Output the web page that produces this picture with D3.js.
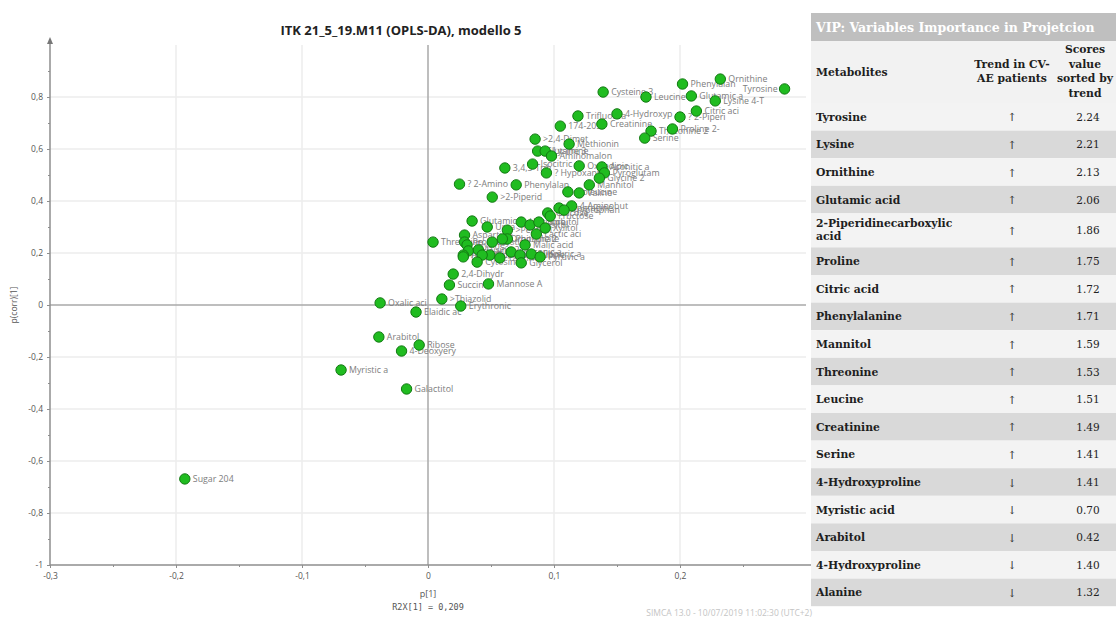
<!DOCTYPE html>
<html>
<head>
<meta charset="utf-8">
<script src="https://cdn.jsdelivr.net/npm/d3@7"></script>
<style>
  body { margin: 0; background: #fff; }
  svg { display: block; }
</style>
</head>
<body>
<svg id="chart" width="1116" height="618"></svg>
<script>
// loading plot values: p[1] and p(corr)[1]
const pointNames = [
  'Ornithine', 'Tyrosine', 'Phenylalan', 'Glutamic a', 'Lysine 4-T', 'Leucine 2', 'Cysteine 3',
  'Citric aci', '? 2-Piperi', '4-Hydroxyp', 'Trifluoroa', 'Creatinine', '174-205', 'Proline 2-',
  'Threonine 2', 'Serine', '>2,4-Dimet', 'Methionin', 'Glutamine', 'Lysine 3', 'Aminomalon',
  '3,4,5-Trih', 'Isocitric', '? Hypoxant', 'Oxoadipic', 'Aconitic a', 'Pyroglutam', 'Glycine 2',
  '? 2-Amino', 'Phenylalan', 'Mannitol', '>2-Piperid', 'Isoleucine', 'Valine', '4-Aminobut',
  'Asparagine', 'Tryptophan', 'Glucose', 'Fructose', 'Glutamic 2', 'Urea', 'Histidine',
  'Inositol', 'Sorbitol', 'Xylitol', '>Pentitol', 'Lactic aci', 'Phosphate', 'Aspartic a',
  'Ornithine 2', 'Cystine', 'Proline 3', 'Glycine', 'Malic acid', 'Uric acid', 'Lysine 2',
  'Gluconic a', 'Fumaric ac', 'Alanine', 'Glyceric a', 'Citrulline', 'Taurine', 'Hippuric a',
  'Pyruvic a', 'Threonine', 'Lyxose', 'Cytosine', 'Glycerol', '2,4-Dihydr', 'Succinic',
  'Mannose A', '>Thiazolid', 'Erythronic', 'Oxalic aci', 'Elaidic ac', 'Arabitol', 'Ribose',
  '4-Deoxyery', 'Myristic a', 'Galactitol', 'Sugar 204'
];
const pointP = [
  0.232, 0.283, 0.202, 0.209, 0.228, 0.173, 0.139,
  0.213, 0.200, 0.150, 0.119, 0.138, 0.105, 0.194,
  0.177, 0.172, 0.085, 0.112, 0.087, 0.093, 0.098,
  0.061, 0.083, 0.094, 0.120, 0.138, 0.140, 0.136,
  0.025, 0.070, 0.128, 0.051, 0.111, 0.120, 0.114,
  0.104, 0.108, 0.095, 0.097, 0.035, 0.047, 0.074,
  0.081, 0.088, 0.093, 0.063, 0.086, 0.063, 0.029,
  0.059, 0.051, 0.029, 0.031, 0.077, 0.032, 0.040,
  0.066, 0.049, 0.028, 0.043, 0.073, 0.057, 0.082,
  0.089, 0.004, 0.028, 0.039, 0.074, 0.020, 0.017,
  0.048, 0.011, 0.026, -0.038, -0.0095, -0.039, -0.007,
  -0.021, -0.069, -0.017, -0.193
];
const pointCorr = [
  0.869, 0.831, 0.850, 0.804, 0.785, 0.800, 0.819,
  0.746, 0.723, 0.735, 0.727, 0.696, 0.688, 0.677,
  0.669, 0.642, 0.638, 0.619, 0.592, 0.592, 0.573,
  0.527, 0.542, 0.508, 0.535, 0.531, 0.508, 0.488,
  0.465, 0.462, 0.462, 0.415, 0.435, 0.431, 0.381,
  0.373, 0.365, 0.354, 0.342, 0.323, 0.300, 0.319,
  0.308, 0.319, 0.296, 0.288, 0.273, 0.254, 0.269,
  0.254, 0.242, 0.242, 0.231, 0.231, 0.208, 0.212,
  0.204, 0.192, 0.192, 0.192, 0.192, 0.181, 0.196,
  0.185, 0.242, 0.185, 0.165, 0.162, 0.119, 0.077,
  0.081, 0.023, -0.004, 0.008, -0.027, -0.123, -0.154,
  -0.177, -0.250, -0.323, -0.669
];

const xTicks = [-0.3, -0.2, -0.1, 0, 0.1, 0.2];
const xMinorTicks = [-0.25, -0.15, -0.05, 0.05, 0.15, 0.25];
const yTicks = [-1, -0.8, -0.6, -0.4, -0.2, 0, 0.2, 0.4, 0.6, 0.8];
const yMinorTicks = [-0.9, -0.7, -0.5, -0.3, -0.1, 0.1, 0.3, 0.5, 0.7, 0.9];

// VIP table
const metabolites = [
  'Tyrosine', 'Lysine', 'Ornithine', 'Glutamic acid', '2-Piperidinecarboxylic acid', 'Proline',
  'Citric acid', 'Phenylalanine', 'Mannitol', 'Threonine', 'Leucine', 'Creatinine', 'Serine',
  '4-Hydroxyproline', 'Myristic acid', 'Arabitol', '4-Hydroxyproline', 'Alanine'
];
const trends = ['↑', '↑', '↑', '↑', '↑', '↑', '↑', '↑', '↑', '↑', '↑', '↑', '↑', '↓', '↓', '↓', '↓', '↓'];
const scores = ['2.24', '2.21', '2.13', '2.06', '1.86', '1.75', '1.72', '1.71', '1.59', '1.53',
  '1.51', '1.49', '1.41', '1.41', '0.70', '0.42', '1.40', '1.32'];

const svg = d3.select('#chart');
const fmt = (v) => String(+v.toFixed(2)).replace('.', ',');

const x = d3.scaleLinear().domain([-0.3, 0.3]).range([50, 806]);
const y = d3.scaleLinear().domain([-1, 1]).range([565, 45]);

// grid
const grid = svg.append('g');
grid.selectAll('.vg')
  .data(xTicks.filter((d) => d !== 0 && d !== -0.3))
  .join('line')
  .attr('x1', (d) => x(d)).attr('x2', (d) => x(d))
  .attr('y1', y(-1)).attr('y2', y(1))
  .attr('stroke', '#ececec').attr('stroke-width', 1.5);
grid.selectAll('.hg')
  .data(yTicks.filter((d) => d !== 0 && d !== -1))
  .join('line')
  .attr('x1', x(-0.3)).attr('x2', x(0.3))
  .attr('y1', (d) => y(d)).attr('y2', (d) => y(d))
  .attr('stroke', '#ececec').attr('stroke-width', 1.5);

// zero lines
svg.append('line')
  .attr('x1', x(0)).attr('x2', x(0)).attr('y1', y(1)).attr('y2', y(-1))
  .attr('stroke', '#a8a8a8').attr('stroke-width', 1.5);
svg.append('line')
  .attr('x1', x(-0.3)).attr('x2', x(0.3)).attr('y1', y(0)).attr('y2', y(0))
  .attr('stroke', '#a8a8a8').attr('stroke-width', 1.5);

// axes
const axisColor = '#8e8e8e';
function styleAxis(g) {
  g.select('.domain').remove();
  g.selectAll('line').attr('stroke', axisColor);
  g.selectAll('text')
    .attr('fill', '#555')
    .style('font-family', '"Open Sans", sans-serif')
    .style('font-size', '8.5px');
}
svg.append('g')
  .attr('transform', `translate(0,${y(-1)})`)
  .call(d3.axisBottom(x).tickValues(xTicks).tickSize(3).tickPadding(5).tickFormat(fmt))
  .call(styleAxis);
svg.append('g')
  .attr('transform', `translate(0,${y(-1)})`)
  .call(d3.axisBottom(x).tickValues(xMinorTicks).tickSize(2).tickFormat(''))
  .call(styleAxis);
svg.append('g')
  .attr('transform', `translate(${x(-0.3)},0)`)
  .call(d3.axisLeft(y).tickValues(yTicks).tickSize(3).tickPadding(4).tickFormat(fmt))
  .call(styleAxis);
svg.append('g')
  .attr('transform', `translate(${x(-0.3)},0)`)
  .call(d3.axisLeft(y).tickValues(yMinorTicks).tickSize(2).tickFormat(''))
  .call(styleAxis);

// axis lines with arrows
const xEnd = x(0.3) + 6;
const yEnd = y(1) - 2;
svg.append('line')
  .attr('x1', x(-0.3)).attr('x2', xEnd).attr('y1', y(-1)).attr('y2', y(-1))
  .attr('stroke', axisColor).attr('stroke-width', 1.5);
svg.append('line')
  .attr('x1', x(-0.3)).attr('x2', x(-0.3)).attr('y1', y(-1)).attr('y2', yEnd)
  .attr('stroke', axisColor).attr('stroke-width', 1.5);
svg.append('path')
  .attr('d', `M${xEnd + 6},${y(-1)} L${xEnd - 1},${y(-1) - 3} L${xEnd - 1},${y(-1) + 3} Z`)
  .attr('fill', '#777');
svg.append('path')
  .attr('d', `M${x(-0.3)},${yEnd - 6} L${x(-0.3) - 3},${yEnd + 1} L${x(-0.3) + 3},${yEnd + 1} Z`)
  .attr('fill', '#777');

// titles
svg.append('text')
  .attr('x', 401).attr('y', 35)
  .attr('text-anchor', 'middle')
  .style('font-family', '"Open Sans", sans-serif')
  .style('font-size', '13px').style('font-weight', 'bold')
  .attr('fill', '#222')
  .text('ITK 21_5_19.M11 (OPLS-DA), modello 5');

svg.append('text')
  .attr('x', x(0)).attr('y', 597)
  .attr('text-anchor', 'middle')
  .style('font-family', '"Open Sans", sans-serif').style('font-size', '9px')
  .attr('fill', '#555')
  .text('p[1]');
svg.append('text')
  .attr('x', x(0)).attr('y', 610)
  .attr('text-anchor', 'middle')
  .style('font-family', '"DejaVu Sans Mono", monospace').style('font-size', '8.5px')
  .attr('fill', '#555')
  .text('R2X[1] = 0,209');
svg.append('text')
  .attr('transform', `translate(17,${y(0)}) rotate(-90)`)
  .attr('text-anchor', 'middle')
  .style('font-family', '"Open Sans", sans-serif').style('font-size', '8.5px')
  .attr('fill', '#555')
  .text('p(corr)[1]');
svg.append('text')
  .attr('x', 812).attr('y', 616)
  .attr('text-anchor', 'end')
  .style('font-family', '"Open Sans", sans-serif').style('font-size', '8.5px')
  .attr('fill', '#c4c4c4')
  .text('SIMCA 13.0 - 10/07/2019 11:02:30 (UTC+2)');

// points
const points = pointNames.map((name, i) => ({ name, p: pointP[i], corr: pointCorr[i] }));

svg.append('g')
  .selectAll('text')
  .data(points)
  .join('text')
  .attr('x', (d) => d.p > 0.26 ? x(d.p) - 7 : x(d.p) + 8)
  .attr('y', (d) => y(d.corr))
  .attr('dy', '0.35em')
  .attr('text-anchor', (d) => d.p > 0.26 ? 'end' : 'start')
  .style('font-family', '"Open Sans", sans-serif')
  .style('font-size', '8.8px')
  .attr('fill', '#7d7d7d')
  .text((d) => d.name);

svg.append('g')
  .selectAll('circle')
  .data(points)
  .join('circle')
  .attr('cx', (d) => x(d.p))
  .attr('cy', (d) => y(d.corr))
  .attr('r', 5.2)
  .attr('fill', '#20bc20')
  .attr('stroke', '#137a13')
  .attr('stroke-width', 1);

// VIP table
const tLeft = 811;
const tRight = 1116;
const serif = '"DejaVu Serif", serif';
const table = svg.append('g');

table.append('rect')
  .attr('x', tLeft).attr('y', 13).attr('width', tRight - tLeft).attr('height', 28)
  .attr('fill', '#bfbfbf');
table.append('text')
  .attr('x', tLeft + 5).attr('y', 31.5)
  .style('font-family', serif).style('font-size', '12.5px').style('font-weight', 'bold')
  .attr('fill', '#fff')
  .text('VIP: Variables Importance in Projetcion');

table.append('rect')
  .attr('x', tLeft).attr('y', 41).attr('width', tRight - tLeft).attr('height', 62)
  .attr('fill', '#f2f2f2');

const headStyle = (t) => t
  .style('font-family', serif).style('font-size', '10.8px').style('font-weight', 'bold')
  .attr('fill', '#1e1e1e');

table.append('text').attr('x', tLeft + 5).attr('y', 76).call(headStyle).text('Metabolites');
['Trend in CV-', 'AE patients'].forEach((s, i) => {
  table.append('text').attr('x', 1012).attr('y', 68 + i * 14)
    .attr('text-anchor', 'middle').call(headStyle).text(s);
});
['Scores', 'value', 'sorted by', 'trend'].forEach((s, i) => {
  table.append('text').attr('x', 1085).attr('y', 53 + i * 14.5)
    .attr('text-anchor', 'middle').call(headStyle).text(s);
});

let rowTop = 103;
metabolites.forEach((name, i) => {
  const twoLines = name.length > 22;
  const h = twoLines ? 34 : 27.6;
  const row = table.append('g');
  row.append('rect')
    .attr('x', tLeft).attr('y', rowTop).attr('width', tRight - tLeft).attr('height', h)
    .attr('fill', i % 2 === 0 ? '#f3f3f3' : '#d9d9d9');
  const mid = rowTop + h / 2;
  if (twoLines) {
    const cut = name.lastIndexOf(' ');
    [name.slice(0, cut), name.slice(cut + 1)].forEach((s, k) => {
      row.append('text').attr('x', tLeft + 5).attr('y', mid - 3 + k * 12.5)
        .call(headStyle).text(s);
    });
  } else {
    row.append('text').attr('x', tLeft + 5).attr('y', mid + 4).call(headStyle).text(name);
  }
  row.append('text').attr('x', 1012).attr('y', mid + 4.5)
    .attr('text-anchor', 'middle')
    .style('font-family', serif).style('font-size', '11px').attr('fill', '#333')
    .text(trends[i]);
  row.append('text').attr('x', 1088).attr('y', mid + 4)
    .attr('text-anchor', 'middle')
    .style('font-family', serif).style('font-size', '10.5px').attr('fill', '#222')
    .text(scores[i]);
  rowTop += h;
});
</script>
</body>
</html>
